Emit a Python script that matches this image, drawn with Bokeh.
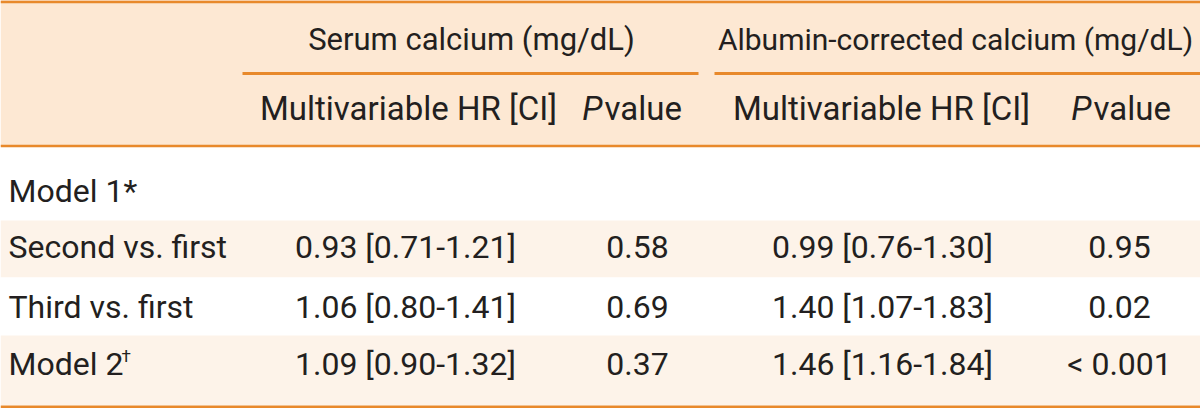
from bokeh.plotting import figure
from bokeh.models import Range1d
from bokeh.core.properties import value
from bokeh.embed import file_html
from bokeh.resources import INLINE

# ---- data ----
group_headers = ["Serum calcium (mg/dL)", "Albumin-corrected calcium (mg/dL)"]
sub_header_hr = "Multivariable HR [CI]"
row_labels = ["Model 1*", "Second vs. first", "Third vs. first", "Model 2"]
serum_hr = ["", "0.93 [0.71-1.21]", "1.06 [0.80-1.41]", "1.09 [0.90-1.32]"]
serum_p = ["", "0.58", "0.69", "0.37"]
alb_hr = ["", "0.99 [0.76-1.30]", "1.40 [1.07-1.83]", "1.46 [1.16-1.84]"]
alb_p = ["", "0.95", "0.02", "< 0.001"]

# ---- style / layout ----
FONT = value("Roboto")
FS = "32px"
TXT = "#231f20"
ORANGE = "#e8892b"
HEAD_BG = "#fde8d3"
ROW_BG = "#fdf3e9"

W, H = 1200, 408
p = figure(width=W, height=H, output_backend="svg", toolbar_location=None,
           x_range=Range1d(0, W), y_range=Range1d(H, 0),
           min_border=0, border_fill_color="white", background_fill_color="white")
p.axis.visible = False
p.grid.visible = False
p.outline_line_color = None

# row bands
band_top = [147, 220, 277, 335]
band_bot = [220, 277, 335, 405]
band_col = ["white", ROW_BG, "white", ROW_BG]
p.quad(left=0, right=1200, top=0, bottom=146, fill_color=HEAD_BG, line_color=None)
p.quad(left=[0] * 4, right=[1200] * 4, top=band_top, bottom=band_bot,
       fill_color=band_col, line_color=None)

# rules
p.segment(x0=[0, 242, 714, 0, 0], x1=[1200, 698, 1200, 1200, 1200],
          y0=[1.2, 73, 73, 145.5, 406.5], y1=[1.2, 73, 73, 145.5, 406.5],
          line_color=ORANGE, line_width=[3, 3, 3, 2.5, 3])

def txt(x, y, t, align="center", style="normal", size=FS):
    p.text(x=x, y=y, text=t, text_font=FONT, text_font_size=size,
           text_color=TXT, text_align=align, text_baseline="middle",
           text_font_style=style)

# headers (y = visual centre of capitals)
txt([471], [38.5], group_headers[:1], size="31px")
txt([955], [38.5], group_headers[1:], size="30px")
txt([408, 881], [107.5, 107.5], [sub_header_hr, sub_header_hr], size="33px")
txt([602, 1091], [107.5, 107.5], ["P", "P"], align="right", style="italic", size="33px")
txt([604, 1093], [107.5, 107.5], ["value", "value"], align="left", size="33px")

# body
mid = [190.5, 246.5, 306, 363.5]
txt([8] * 4, mid, row_labels, align="left")
txt([121], [355], ["\u2020"], align="left", size="17px")
txt([405] * 4, mid, serum_hr)
txt([637] * 4, mid, serum_p)
txt([882] * 4, mid, alb_hr)
txt([1119] * 4, mid, alb_p)

open("out.html", "w").write(file_html(p, INLINE))
